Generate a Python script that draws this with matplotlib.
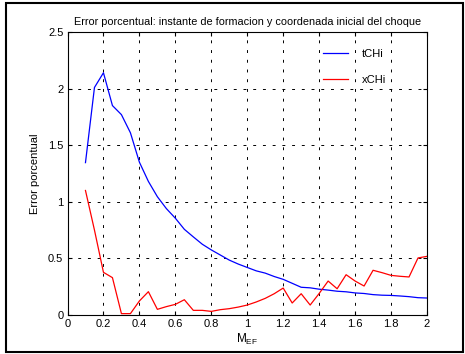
import matplotlib
matplotlib.use('Agg')
import matplotlib.pyplot as plt
from matplotlib.patches import Rectangle
import numpy as np

plt.rcParams['font.family'] = ['Liberation Sans', 'DejaVu Sans']

# M_EF values, step 0.05 from 0.1 to 2.0
m_ef = [0.10, 0.15, 0.20, 0.25, 0.30, 0.35, 0.40, 0.45, 0.50, 0.55,
        0.60, 0.65, 0.70, 0.75, 0.80, 0.85, 0.90, 0.95, 1.00, 1.05,
        1.10, 1.15, 1.20, 1.25, 1.30, 1.35, 1.40, 1.45, 1.50, 1.55,
        1.60, 1.65, 1.70, 1.75, 1.80, 1.85, 1.90, 1.95, 2.00]

tchi = [1.346, 2.01, 2.14, 1.85, 1.77, 1.61, 1.35, 1.18, 1.045, 0.94,
        0.855, 0.757, 0.69, 0.625, 0.575, 0.53, 0.485, 0.45, 0.42, 0.39,
        0.37, 0.34, 0.315, 0.28, 0.245, 0.24, 0.228, 0.22, 0.21, 0.205,
        0.195, 0.19, 0.18, 0.175, 0.173, 0.168, 0.162, 0.153, 0.15]

xchi = [1.10, 0.75, 0.377, 0.33, 0.012, 0.012, 0.124, 0.206, 0.05, 0.074,
        0.094, 0.135, 0.041, 0.041, 0.032, 0.047, 0.056, 0.07, 0.088, 0.115,
        0.147, 0.188, 0.238, 0.106, 0.188, 0.088, 0.19, 0.30, 0.232, 0.356,
        0.30, 0.256, 0.395, 0.374, 0.35, 0.342, 0.336, 0.504, 0.518]

labels = ['tCHi', 'xCHi']
title = 'Error porcentual: instante de formacion y coordenada inicial del choque'

fig = plt.figure(figsize=(4.65, 3.54), dpi=100)
ax = fig.add_axes([67.5 / 465, 1 - 315 / 354, (427 - 67.5) / 465, (315 - 32) / 354])

ax.plot(m_ef, tchi, color='#0000ff', lw=0.9, label=labels[0])
ax.plot(m_ef, xchi, color='#ff0000', lw=0.9, label=labels[1])

ax.set_xlim(0, 2)
ax.set_ylim(0, 2.5)
ax.set_xticks(np.arange(0, 2.01, 0.2))
ax.set_xticklabels(['0', '0.2', '0.4', '0.6', '0.8', '1', '1.2', '1.4', '1.6', '1.8', '2'])
ax.set_yticks(np.arange(0, 2.51, 0.5))
ax.set_yticklabels(['0', '0.5', '1', '1.5', '2', '2.5'])
ax.tick_params(direction='in', length=3, labelsize=8, top=True, right=True, pad=3)
ax.grid(True, color='black', linestyle=(0, (3, 7)), lw=0.7)
for s in ax.spines.values():
    s.set_linewidth(0.8)

ax.set_title(title, fontsize=7.8, pad=5)
ax.set_xlabel(r'$\mathregular{M_{EF}}$', fontsize=8.5, labelpad=2)
ax.set_ylabel('Error porcentual', fontsize=8, labelpad=6)

leg = ax.legend(loc='upper right', bbox_to_anchor=(0.915, 0.975), frameon=False,
                fontsize=8, handlelength=2.2, labelspacing=1.4, handletextpad=1.3)

fig.patches.append(Rectangle((6 / 465, 2 / 354), 457 / 465, 349 / 354,
                             transform=fig.transFigure, fill=False,
                             edgecolor='black', lw=1.5))

fig.savefig('out.png', dpi=100)
